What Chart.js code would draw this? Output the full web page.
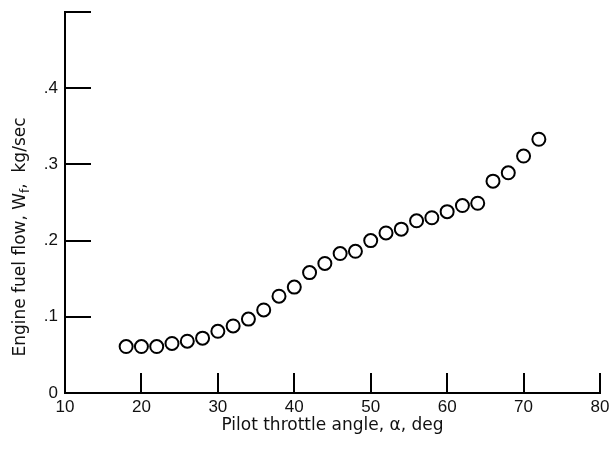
<!DOCTYPE html>
<html>
<head>
<meta charset="utf-8">
<title>Engine fuel flow vs pilot throttle angle</title>
<script src="https://cdn.jsdelivr.net/npm/chart.js@4.4.1/dist/chart.umd.min.js"></script>
<style>
    html, body { margin: 0; padding: 0; background: #fff; }
    canvas { display: block; }
</style>
</head>
<body>
<canvas id="fuelChart" width="610" height="449"></canvas>
<script>
// Measured fuel flow at each throttle setting
const throttleAngle = [18, 20, 22, 24, 26, 28, 30, 32, 34, 36, 38, 40, 42, 44,
                       46, 48, 50, 52, 54, 56, 58, 60, 62, 64, 66, 68, 70, 72];
const fuelFlow = [0.061, 0.061, 0.061, 0.065, 0.068, 0.072, 0.081, 0.088, 0.097, 0.109,
                  0.127, 0.139, 0.158, 0.170, 0.183, 0.186, 0.200, 0.210, 0.215, 0.226,
                  0.230, 0.238, 0.246, 0.249, 0.278, 0.289, 0.311, 0.333];

const xTicks = [10, 20, 30, 40, 50, 60, 70, 80];
const yTicks = [0, 0.1, 0.2, 0.3, 0.4, 0.5];
const yTickLabels = ['0', '.1', '.2', '.3', '.4', ''];

const numberFont = { family: '"Liberation Sans", Arial, sans-serif', size: 17 };
const titleFont = '17px "DejaVu Sans", sans-serif';

/**
 * Inward tick marks plus the rotated y title (with the subscript f)
 */
const axisMarks = {
    id: 'axisMarks',
    afterDraw(chart) {
        const { ctx, chartArea, scales: { x, y } } = chart;
        ctx.save();
        ctx.strokeStyle = '#000';
        ctx.lineWidth = 2;
        ctx.beginPath();
        xTicks.slice(1).forEach(v => {
            const px = Math.round(x.getPixelForValue(v));
            ctx.moveTo(px, chartArea.bottom);
            ctx.lineTo(px, chartArea.bottom - 20);
        });
        yTicks.slice(1).forEach(v => {
            const py = Math.round(y.getPixelForValue(v));
            ctx.moveTo(chartArea.left, py);
            ctx.lineTo(chartArea.left + 26, py);
        });
        ctx.stroke();

        // y title: "Engine fuel flow, W" + subscript f + ",  kg/sec"
        const head = 'Engine fuel flow, W';
        const sub = 'f';
        const tail = ',  kg/sec';
        const subFont = '12px "DejaVu Sans", sans-serif';
        ctx.fillStyle = '#111';
        ctx.textBaseline = 'alphabetic';
        ctx.textAlign = 'left';
        ctx.font = titleFont;
        const wHead = ctx.measureText(head).width;
        const wTail = ctx.measureText(tail).width;
        ctx.font = subFont;
        const wSub = ctx.measureText(sub).width;
        const total = wHead + wSub + wTail;

        ctx.translate(25, 237);
        ctx.rotate(-Math.PI / 2);
        let cx = -total / 2;
        ctx.font = titleFont;
        ctx.fillText(head, cx, 0);
        cx += wHead;
        ctx.font = subFont;
        ctx.fillText(sub, cx, 4);
        cx += wSub;
        ctx.font = titleFont;
        ctx.fillText(tail, cx, 0);
        ctx.restore();
    }
};

new Chart(document.getElementById('fuelChart'), {
    type: 'scatter',
    data: {
        datasets: [{
            data: throttleAngle.map((a, i) => ({ x: a, y: fuelFlow[i] })),
            pointStyle: 'circle',
            pointRadius: 6.5,
            pointBorderWidth: 2,
            pointBorderColor: '#000',
            pointBackgroundColor: '#fff',
            showLine: false
        }]
    },
    options: {
        responsive: false,
        animation: false,
        devicePixelRatio: 1,
        layout: { padding: { top: 12, right: 10, left: 0, bottom: 0 } },
        plugins: {
            legend: { display: false },
            tooltip: { enabled: false }
        },
        scales: {
            x: {
                type: 'linear',
                min: 10,
                max: 80,
                afterBuildTicks: s => { s.ticks = xTicks.map(v => ({ value: v })); },
                afterFit: s => {
                    s.height = 56;
                    s.paddingLeft = 0;
                    s.paddingRight = 0;
                },
                grid: { display: false, drawTicks: false },
                border: { display: true, color: '#000', width: 2 },
                ticks: {
                    color: '#111',
                    font: numberFont,
                    padding: 4,
                    maxRotation: 0
                },
                title: {
                    display: true,
                    text: 'Pilot throttle angle, \u03b1, deg',
                    color: '#111',
                    font: { family: '"DejaVu Sans", sans-serif', size: 17 },
                    padding: { top: 0, bottom: 13 }
                }
            },
            y: {
                type: 'linear',
                min: 0,
                max: 0.5,
                afterBuildTicks: s => { s.ticks = yTicks.map(v => ({ value: v })); },
                afterFit: s => {
                    s.width = 65;
                    s.paddingTop = 0;
                    s.paddingBottom = 0;
                },
                grid: { display: false, drawTicks: false },
                border: { display: true, color: '#000', width: 2 },
                ticks: {
                    color: '#111',
                    font: numberFont,
                    padding: 7,
                    callback: (val, i) => yTickLabels[i]
                }
            }
        }
    },
    plugins: [axisMarks]
});
</script>
</body>
</html>
